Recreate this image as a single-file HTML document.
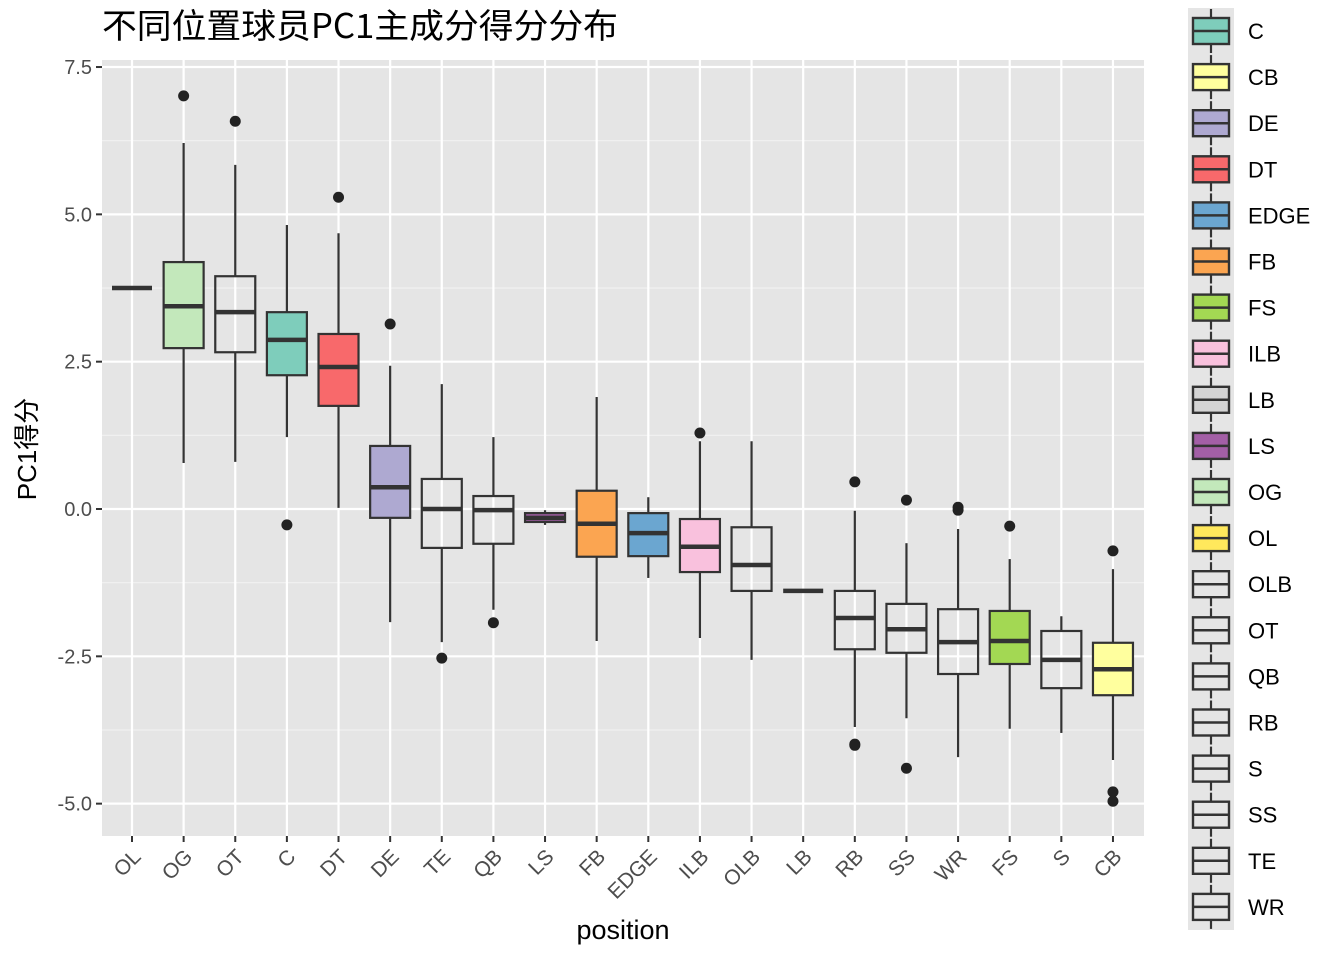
<!DOCTYPE html>
<html><head><meta charset="utf-8"><style>
body{margin:0;background:#fff;}
svg{display:block;font-family:"Liberation Sans","Noto Sans CJK SC",sans-serif;}
</style></head><body>
<svg id="chart" width="1344" height="960" viewBox="0 0 1344 960" xmlns="http://www.w3.org/2000/svg">
<text x="102" y="38" font-size="34" fill="#000" font-family="'Noto Sans CJK SC',sans-serif" textLength="516" lengthAdjust="spacingAndGlyphs">不同位置球员PC1主成分得分分布</text>
<text x="623" y="939" font-size="27" text-anchor="middle" fill="#000">position</text>
<text transform="translate(36,449) rotate(-90)" font-size="26" text-anchor="middle" fill="#000" font-family="'Liberation Sans','Noto Sans CJK SC',sans-serif">PC1得分</text>
<g id="plot"></g>
<g id="legend"></g>
</svg>
<script>
const categories=["OL","OG","OT","C","DT","DE","TE","QB","LS","FB","EDGE","ILB","OLB","LB","RB","SS","WR","FS","S","CB"];
const lowWhisker=[3.75,0.78,0.80,1.22,0.02,-1.92,-2.26,-1.71,-0.27,-2.24,-1.17,-2.19,-2.56,-1.39,-3.70,-3.55,-4.21,-3.73,-3.80,-4.26];
const q1Values=[3.75,2.73,2.66,2.27,1.75,-0.15,-0.66,-0.59,-0.22,-0.81,-0.80,-1.07,-1.39,-1.39,-2.38,-2.44,-2.80,-2.63,-3.04,-3.16];
const medianValues=[3.75,3.44,3.34,2.87,2.41,0.37,0.00,-0.02,-0.15,-0.25,-0.41,-0.64,-0.95,-1.39,-1.85,-2.04,-2.26,-2.24,-2.56,-2.72];
const q3Values=[3.75,4.19,3.95,3.34,2.97,1.07,0.51,0.22,-0.07,0.31,-0.07,-0.17,-0.31,-1.39,-1.39,-1.61,-1.70,-1.73,-2.07,-2.27];
const highWhisker=[3.75,6.21,5.84,4.82,4.68,2.43,2.12,1.22,-0.02,1.90,0.20,1.15,1.15,-1.39,-0.03,-0.58,-0.34,-0.85,-1.82,-1.02];
const outliers=[[],[7.01],[6.58],[-0.27],[5.29],[3.14],[-2.53],[-1.93],[],[],[],[1.29],[],[],[0.46,-3.99,-4.01],[0.15,-4.40],[0.03,-0.02],[-0.29],[],[-0.71,-4.80,-4.96]];
const fillColors={C:"#7ecdbb",CB:"#ffff9e",DE:"#aea9d1",DT:"#f8696b",EDGE:"#6ba6d0",FB:"#fba551",FS:"#a3d853",ILB:"#f9c1dd",LB:"#d4d4d4",LS:"#a35fa6",OG:"#c3e8bb",OL:"#ffe85c"};
const legendLabels=["C","CB","DE","DT","EDGE","FB","FS","ILB","LB","LS","OG","OL","OLB","OT","QB","RB","S","SS","TE","WR"];
const yTicks=[7.5,5.0,2.5,0.0,-2.5,-5.0];
const yTickLabels=["7.5","5.0","2.5","0.0","-2.5","-5.0"];

const NS="http://www.w3.org/2000/svg";
const L=102,R=1144,T=60,B=836;
const y=v=>509-v*58.93;
const x=i=>132+i*51.63;
function mk(tag,attrs,parent){const e=document.createElementNS(NS,tag);for(const k in attrs)e.setAttribute(k,attrs[k]);parent.appendChild(e);return e;}
const plot=document.getElementById('plot');
const bg=mk('rect',{x:L,y:T,width:R-L,height:B-T,fill:'#e5e5e5'},plot);


for(let v=-6.25;v<=8.75;v+=2.5){const yy=y(v);if(yy<T||yy>B)continue;
 const g=mk('line',{x1:L,x2:R,y1:yy,y2:yy,stroke:'#f2f2f2','stroke-width':1.1},plot);
 
 }
yTicks.forEach((v,i)=>{const yy=y(v);
 const g=mk('line',{x1:L,x2:R,y1:yy,y2:yy,stroke:'#fff','stroke-width':2.2},plot);
 
 
 const tk=mk('line',{x1:L-6,x2:L,y1:yy,y2:yy,stroke:'#333','stroke-width':2},plot);
 
 
 const t=mk('text',{x:L-10,y:yy+7,'text-anchor':'end','font-size':20,fill:'#4d4d4d'},plot);
 t.textContent=yTickLabels[i];
 
 });
categories.forEach((c,i)=>{const xx=x(i);
 const g=mk('line',{x1:xx,x2:xx,y1:T,y2:B,stroke:'#fff','stroke-width':2.2},plot);
 
 
 const tk=mk('line',{x1:xx,x2:xx,y1:B,y2:B+6,stroke:'#333','stroke-width':2},plot);
 
 
 const t=mk('text',{x:0,y:0,'text-anchor':'end','font-size':21,fill:'#4d4d4d',transform:`translate(${xx+10},${B+22}) rotate(-45)`},plot);
 t.textContent=c;
 
 });
categories.forEach((c,i)=>{const xx=x(i);const hw=20;
 const grp=mk('g',{},plot);
 
 
 mk('line',{x1:xx,x2:xx,y1:y(highWhisker[i]),y2:y(q3Values[i]),stroke:'#333','stroke-width':2.2},grp);
 mk('line',{x1:xx,x2:xx,y1:y(q1Values[i]),y2:y(lowWhisker[i]),stroke:'#333','stroke-width':2.2},grp);
 mk('rect',{x:xx-hw,y:y(q3Values[i]),width:2*hw,height:Math.max(0,y(q1Values[i])-y(q3Values[i])),fill:fillColors[c]||'none',stroke:'#333','stroke-width':2.2},grp);
 mk('line',{x1:xx-hw,x2:xx+hw,y1:y(medianValues[i]),y2:y(medianValues[i]),stroke:'#333','stroke-width':4.5},grp);
 outliers[i].forEach(o=>{const p=mk('circle',{cx:xx,cy:y(o),r:5.5,fill:'#222'},grp);
  
  });});
const leg=document.getElementById('legend');
const lbg=mk('rect',{x:1188,y:8,width:46,height:922,fill:'#e5e5e5'},leg);


legendLabels.forEach((c,i)=>{const cy=31+i*46.1;
 const g=mk('g',{},leg);
 
 
 mk('line',{x1:1211,x2:1211,y1:cy-22,y2:cy-13,stroke:'#333','stroke-width':2.2},g);
 mk('line',{x1:1211,x2:1211,y1:cy+13,y2:cy+22,stroke:'#333','stroke-width':2.2},g);
 mk('rect',{x:1193,y:cy-13,width:36,height:26,fill:fillColors[c]||'none',stroke:'#333','stroke-width':2.4},g);
 mk('line',{x1:1193,x2:1229,y1:cy,y2:cy,stroke:'#333','stroke-width':2.5},g);
 const t=mk('text',{x:1248,y:cy+8,'font-size':22,fill:'#000'},g);t.textContent=c;});
</script>
</body></html>
